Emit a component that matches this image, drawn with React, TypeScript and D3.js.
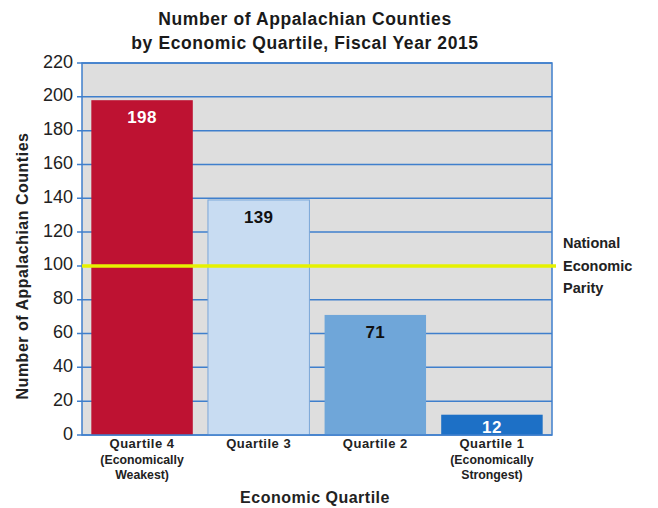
import React from "react";
import * as d3 from "d3";

const categories = ["Quartile 4", "Quartile 3", "Quartile 2", "Quartile 1"];
const subLabels: string[][] = [["(Economically", "Weakest)"], [], [], ["(Economically", "Strongest)"]];
const values = [198, 139, 71, 12];
const barColors = ["#be1232", "#c8dcf2", "#6fa6d9", "#1d70c6"];
const labelColors = ["#ffffff", "#111111", "#111111", "#ffffff"];
const yTicks = [0, 20, 40, 60, 80, 100, 120, 140, 160, 180, 200, 220];
const parityValue = 100;
const parityLabel = ["National", "Economic", "Parity"];
const titleLines = ["Number of Appalachian Counties", "by Economic Quartile, Fiscal Year 2015"];

const W = 658, H = 508;
const left = 82, right = 552, top = 63, bottom = 435;
const font = "Liberation Sans, Arial, sans-serif";

export default function App() {
  const y = d3.scaleLinear().domain([0, 220]).range([bottom, top]);
  const x = d3.scaleBand<string>().domain(categories).range([left, right]).paddingInner(0.13).paddingOuter(0.08);
  const blue = "#3f7fcc";
  return (
    <svg width={W} height={H} style={{ position: "absolute", left: 0, top: 0 }} fontFamily={font}>
      <rect x={0} y={0} width={W} height={H} fill="#fff" />
      {titleLines.map((t, i) => (
        <text key={i} x={305} y={24.5 + i * 24} textAnchor="middle" fontSize={17.5} letterSpacing={0.6} fontWeight="bold" fill="#1a1a1a">{t}</text>
      ))}
      <rect x={left} y={top} width={right - left} height={bottom - top} fill="#dedede" />
      {yTicks.map((t) => (
        <g key={t}>
          <line x1={left - 5} x2={right} y1={y(t)} y2={y(t)} stroke={blue} strokeWidth={1.5} />
          <text x={73} y={y(t) + 4.5} textAnchor="end" fontSize={18} fill="#222">{t}</text>
        </g>
      ))}
      {categories.map((c, i) => (
        <rect key={c} x={x(c)!} y={y(values[i])} width={x.bandwidth()} height={bottom - y(values[i])}
          fill={barColors[i]} stroke={i === 1 ? "#7aa6d8" : "none"} strokeWidth={1} />
      ))}
      <rect x={left} y={top} width={right - left} height={bottom - top} fill="none" stroke={blue} strokeWidth={1.5} />
      <line x1={left} x2={right + 4} y1={y(parityValue)} y2={y(parityValue)} stroke="#e6f200" strokeWidth={3.5} />
      {categories.map((c, i) => (
        <text key={c} x={x(c)! + x.bandwidth() / 2} y={Math.min(y(values[i]) + 23, bottom - 2)} textAnchor="middle" fontSize={17} letterSpacing={0.4} fontWeight="bold" fill={labelColors[i]}>{values[i]}</text>
      ))}
      {categories.map((c, i) => (
        <g key={c}>
          <text x={x(c)! + x.bandwidth() / 2} y={448} textAnchor="middle" fontSize={13} letterSpacing={0.5} fontWeight="bold" fill="#222">{c}</text>
          {subLabels[i].map((s, j) => (
            <text key={j} x={x(c)! + x.bandwidth() / 2} y={463.5 + j * 15} textAnchor="middle" fontSize={12.3} fontWeight="bold" fill="#222">{s}</text>
          ))}
        </g>
      ))}
      <text x={315} y={503} textAnchor="middle" fontSize={16} letterSpacing={0.5} fontWeight="bold" fill="#222">Economic Quartile</text>
      <text transform={`translate(28, 266) rotate(-90)`} textAnchor="middle" fontSize={16} letterSpacing={0.5} fontWeight="bold" fill="#222">Number of Appalachian Counties</text>
      {parityLabel.map((s, i) => (
        <text key={i} x={563} y={248 + i * 22.5} fontSize={14.5} fontWeight="bold" fill="#222">{s}</text>
      ))}
    </svg>
  );
}
